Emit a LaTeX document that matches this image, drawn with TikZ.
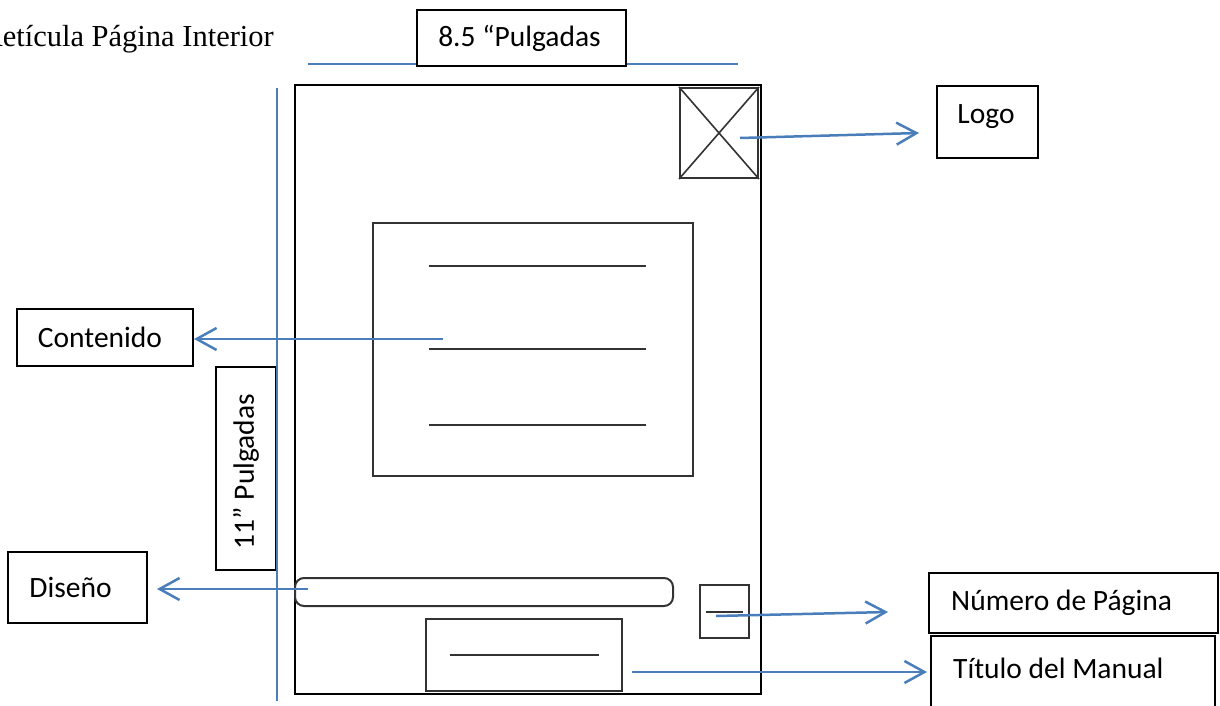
\documentclass[tikz,border=0pt]{standalone}
\usepackage{fontspec}
\setmainfont{Carlito}
\newfontfamily\timesf{Liberation Serif}
\usetikzlibrary{arrows.meta}
\definecolor{wblue}{HTML}{4A7EBB}
\definecolor{dgray}{HTML}{333333}
\begin{document}
\begin{tikzpicture}[x=1pt,y=-1pt,
  lbl/.style={draw=black, line width=2pt, fill=white, inner sep=0pt, font=\fontsize{29.5}{33}\selectfont},
  txt/.style={inner sep=0pt, font=\fontsize{29.5}{33}\selectfont},
  pg/.style={draw=black, line width=2pt},
  inbox/.style={draw=dgray, line width=2pt},
  conn/.style={draw=wblue, line width=2.5pt, -{Straight Barb[length=20pt,width=22pt]}},
  guide/.style={draw=wblue, line width=2.5pt}]
\useasboundingbox (0,0) rectangle (1220,706);

% title
\node[anchor=base east, inner sep=0pt, font=\timesf\fontsize{30.5}{34}\selectfont] (title) at (274,47) {Retícula Página Interior};

% width guide
\coordinate (wg1) at (308,64);
\coordinate (wg2) at (738,64);
\draw[guide] (wg1) -- (wg2);
\node[lbl, minimum width=209pt, minimum height=56pt] (ancho) at (521.5,38) {\hspace*{-4pt}8.5 “Pulgadas};

% page
\node[pg, minimum width=466pt, minimum height=609pt, inner sep=0pt] (page) at (528,389.5) {};

% logo placeholder
\node[inbox, minimum width=78pt, minimum height=90pt, inner sep=0pt] (logox) at (719,133) {};
\draw[dgray, line width=1.6pt] (logox.north west) -- (logox.south east);
\draw[dgray, line width=1.6pt] (logox.north east) -- (logox.south west);

% content block
\node[inbox, minimum width=320pt, minimum height=253pt, inner sep=0pt] (content) at (533,349.5) {};
\draw[dgray, line width=2pt] (429,266) -- (646,266);
\draw[dgray, line width=2pt] (429,349) -- (646,349);
\draw[dgray, line width=2pt] (429,425) -- (646,425);

% design bar
\draw[dgray, line width=2pt, rounded corners=9pt] (295,578) rectangle (673,606);
\coordinate (bar) at (308,589);

% page number box
\node[inbox, minimum width=49pt, minimum height=53pt, inner sep=0pt] (pnum) at (724.5,611.5) {};
\draw[dgray, line width=2pt] (706,612) -- (743,612);

% manual title box
\node[inbox, minimum width=196pt, minimum height=72pt, inner sep=0pt] (mtitle) at (524,655) {};
\draw[dgray, line width=2pt] (450,655) -- (599,655);

% labels
\node[lbl, minimum width=101pt, minimum height=72pt] (logo) at (987.5,122) {};
\node[txt] (logot) at (986,117) {Logo};
\node[lbl, minimum width=176pt, minimum height=57pt] (cont) at (105,337.5) {\hspace*{-10pt}Contenido};
\node[lbl, minimum width=139pt, minimum height=71pt] (dis) at (77.5,587.5) {\hspace*{-14pt}Diseño};
\node[lbl, minimum width=289pt, minimum height=60pt] (num) at (1073.5,603) {};
\node[txt, anchor=west] (numt) at (951,603) {Número de Página};
\node[lbl, minimum width=284pt, minimum height=84pt] (tit) at (1073,678) {};
\node[txt, anchor=west] (titt) at (953,668) {Título del Manual};

% height guide
\node[lbl, minimum width=203pt, minimum height=60pt, rotate=90] (alto) at (246,468.5) {\hspace*{-6pt}11” Pulgadas};
\coordinate (hg1) at (277,88);
\coordinate (hg2) at (277,701);
\draw[guide] (hg1) -- (hg2);

% connectors
\coordinate (sLogo) at (740,138);
\coordinate (eLogo) at (919,133);
\draw[conn] (sLogo) -- (eLogo);
\coordinate (sCont) at (443,339);
\draw[conn] (sCont) -- (sCont -| cont.east);
\coordinate (eDis) at (157,589);
\draw[conn] (bar) -- (eDis);
\coordinate (sNum) at (716,616);
\coordinate (eNum) at (888,612);
\draw[conn] (sNum) -- (eNum);
\coordinate (sTit) at (632,672);
\draw[conn] (sTit) -- ([xshift=-3pt]sTit -| tit.west);
\end{tikzpicture}
\end{document}
